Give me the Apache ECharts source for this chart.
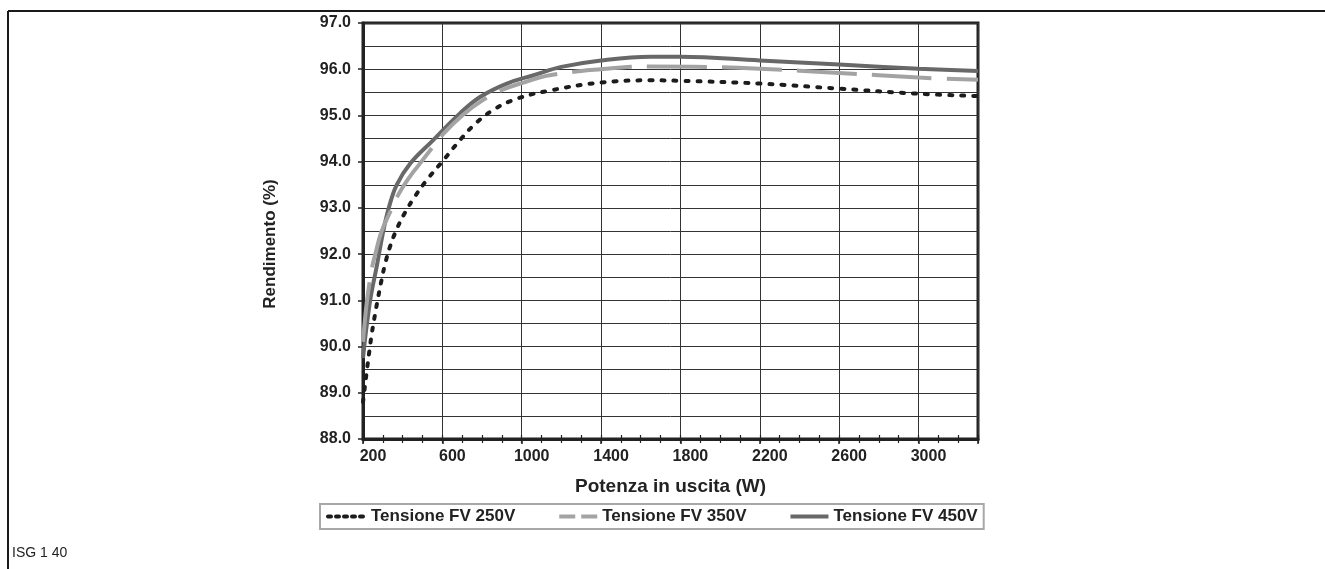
<!DOCTYPE html>
<html><head><meta charset="utf-8">
<script src="https://cdn.jsdelivr.net/npm/echarts@6/dist/echarts.min.js"></script>
<style>html,body{margin:0;padding:0;background:#fff}#c{width:1325px;height:569px}</style>
</head><body><div id="c"></div>
<script>
// ---- data ----
const seriesNames = ['Tensione FV 250V', 'Tensione FV 350V', 'Tensione FV 450V'];
const xTickLabels = [200, 600, 1000, 1400, 1800, 2200, 2600, 3000];
const yTickLabels = ['88.0', '89.0', '90.0', '91.0', '92.0', '93.0', '94.0', '95.0', '96.0', '97.0'];
const xTitle = 'Potenza in uscita (W)';
const yTitle = 'Rendimento (%)';
const footNote = 'ISG 1 40';

const p250 = [200, 210, 220, 232, 245, 260, 277, 294, 311, 336, 370, 412, 462, 521, 605, 672, 756, 857, 975, 1143, 1395, 1650, 1800, 2200, 2600, 3000, 3300];
const e250 = [88.8, 89.15, 89.5, 89.9, 90.3, 90.68, 91.08, 91.45, 91.78, 92.16, 92.54, 92.9, 93.25, 93.6, 94.03, 94.38, 94.78, 95.12, 95.36, 95.54, 95.71, 95.76, 95.75, 95.69, 95.58, 95.47, 95.42];

const p350 = [200, 215, 230, 245, 265, 290, 330, 380, 440, 480, 530, 605, 700, 800, 900, 1000, 1140, 1400, 1650, 1930, 2200, 2600, 3000, 3300];
const e350 = [90.1, 90.8, 91.3, 91.7, 92.05, 92.45, 92.85, 93.3, 93.7, 93.92, 94.2, 94.6, 95.0, 95.32, 95.55, 95.7, 95.87, 96.0, 96.06, 96.05, 96.01, 95.92, 95.82, 95.77];

const p450 = [200, 210, 220, 240, 270, 300, 330, 370, 440, 550, 690, 790, 925, 1060, 1200, 1400, 1650, 1800, 2200, 2600, 3000, 3300];
const e450 = [89.75, 90.15, 90.5, 91.1, 91.75, 92.45, 93.0, 93.5, 93.97, 94.45, 95.05, 95.4, 95.69, 95.87, 96.05, 96.19, 96.27, 96.27, 96.19, 96.10, 96.01, 95.96];

// ---- chart ----
const FONT = '"Liberation Sans", Arial, sans-serif';
const zip = (a, b) => a.map((v, i) => [v, b[i]]);
const gridColor = '#333';
const frameColor = '#222';

const chart = echarts.init(document.getElementById('c'), null, { renderer: 'canvas' });
chart.setOption({
  animation: false,
  backgroundColor: '#fff',
  grid: { left: 363, right: 347, top: 23, bottom: 130, show: true, borderColor: frameColor, borderWidth: 3, backgroundColor: 'transparent' },
  legend: {
    left: 320, top: 504, orient: 'horizontal',
    itemWidth: 38, itemHeight: 14, itemGap: 42,
    padding: [4, 6],
    borderColor: '#a8a8a8', borderWidth: 2,
    itemStyle: { opacity: 0 },
    textStyle: { fontFamily: FONT, fontWeight: 'bold', fontSize: 17, color: '#222' },
    data: [
      { name: seriesNames[0], lineStyle: { type: [3, 5], cap: 'round', width: 4 } },
      { name: seriesNames[1], lineStyle: { type: [16, 6], width: 4 } },
      { name: seriesNames[2], lineStyle: { width: 4 } }
    ]
  },
  xAxis: [
    {
      type: 'value', min: 200, max: 3300, interval: 400, position: 'bottom',
      name: xTitle, nameLocation: 'middle', nameGap: 38,
      nameTextStyle: { fontFamily: FONT, fontWeight: 'bold', fontSize: 19, color: '#222' },
      axisLine: { show: true, lineStyle: { color: frameColor, width: 3 } },
      axisTick: { show: true, length: 5, lineStyle: { color: frameColor, width: 1.5 } },
      axisLabel: {
        margin: 10, fontFamily: FONT, fontWeight: 'bold', fontSize: 16, color: '#222',
        padding: [0, 0, 0, 20],
        formatter: v => (xTickLabels.indexOf(v) >= 0 ? String(v) : '')
      },
      splitLine: { show: true, lineStyle: { color: gridColor, width: 1 } }
    },
    {
      type: 'value', min: 200, max: 3300, interval: 100, position: 'bottom', offset: -4,
      axisLine: { show: false },
      axisTick: { show: true, length: 8, lineStyle: { color: frameColor, width: 1.2 } },
      axisLabel: { show: false },
      splitLine: { show: false }
    }
  ],
  yAxis: {
    type: 'value', min: 88, max: 97, interval: 1,
    name: yTitle, nameLocation: 'middle', nameGap: 84, nameRotate: 90,
    nameTextStyle: { fontFamily: FONT, fontWeight: 'bold', fontSize: 17, color: '#222', padding: [0, 26, 0, 0] },
    axisLine: { show: true, lineStyle: { color: frameColor, width: 3 } },
    axisTick: { show: true, length: 5, lineStyle: { color: frameColor, width: 1.5 } },
    axisLabel: {
      margin: 12, fontFamily: FONT, fontWeight: 'bold', fontSize: 16, color: '#222',
      formatter: v => { const s = v.toFixed(1); return yTickLabels.indexOf(s) >= 0 ? s : ''; }
    },
    splitLine: { show: true, lineStyle: { color: gridColor, width: 1 } },
    minorTick: { show: false, splitNumber: 2 },
    minorSplitLine: { show: true, lineStyle: { color: gridColor, width: 1 } }
  },
  series: [
    {
      name: seriesNames[0], type: 'line', xAxisIndex: 0, symbol: 'none', smooth: 0.4,
      data: zip(p250, e250), z: 4,
      lineStyle: { color: '#1c1c1c', width: 4, type: [3, 9], cap: 'round' },
      itemStyle: { color: '#1c1c1c' }
    },
    {
      name: seriesNames[1], type: 'line', xAxisIndex: 0, symbol: 'none', smooth: 0.4,
      data: zip(p350, e350), z: 3,
      lineStyle: { color: '#a3a3a3', width: 4, type: [60, 15] },
      itemStyle: { color: '#a3a3a3' }
    },
    {
      name: seriesNames[2], type: 'line', xAxisIndex: 0, symbol: 'none', smooth: 0.4,
      data: zip(p450, e450), z: 2,
      lineStyle: { color: '#686868', width: 4 },
      itemStyle: { color: '#686868' }
    }
  ],
  graphic: [
    { type: 'line', shape: { x1: 8, y1: 11, x2: 1325, y2: 11 }, style: { stroke: '#1a1a1a', lineWidth: 2 }, silent: true },
    { type: 'line', shape: { x1: 8, y1: 11, x2: 8, y2: 569 }, style: { stroke: '#1a1a1a', lineWidth: 2 }, silent: true },
    { type: 'text', left: 12, top: 546, style: { text: footNote, fontFamily: FONT, fontSize: 14, fill: '#222' }, silent: true }
  ]
});
</script>
</body></html>
